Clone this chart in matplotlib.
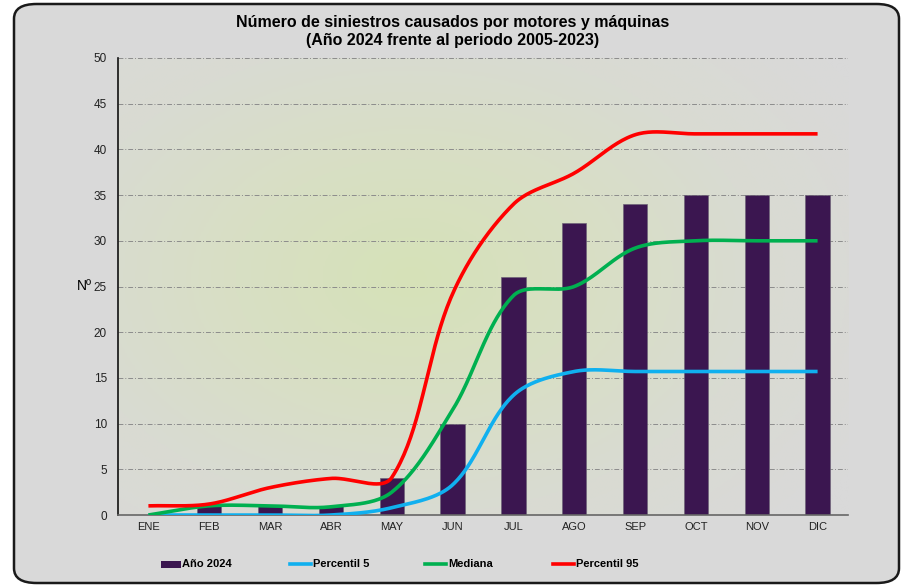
import numpy as np
import matplotlib.pyplot as plt
from matplotlib.patches import FancyBboxPatch, Rectangle
from matplotlib.lines import Line2D
from matplotlib.colors import LinearSegmentedColormap

# Datos
meses = ['ENE', 'FEB', 'MAR', 'ABR', 'MAY', 'JUN', 'JUL', 'AGO', 'SEP', 'OCT', 'NOV', 'DIC']
anio_2024 = [0, 1, 1, 1, 4, 10, 26, 32, 34, 35, 35, 35]
percentil_5 = [0, 0, 0, 0, 0.8, 3.3, 13.1, 15.7, 15.7, 15.7, 15.7, 15.7]
mediana = [0, 1, 1, 0.9, 2.5, 11.5, 24, 25, 29.2, 30, 30, 30]
percentil_95 = [1, 1.2, 3, 4, 4.1, 24.2, 34, 37.4, 41.6, 41.7, 41.7, 41.7]

plt.rcParams['font.family'] = ['Liberation Sans', 'DejaVu Sans']

# escala aproximada en pixeles por unidad (para el suavizado tipo Excel)
SX, SY = 60.8, 9.14


def suavizar(y, n=40):
    # curva Bezier con asas proporcionales a la longitud de cada tramo
    y = np.asarray(y, dtype=float)
    x = np.arange(len(y), dtype=float)
    P = np.column_stack([x * SX, y * SY])
    k = len(P)
    d = np.hypot(*np.diff(P, axis=0).T)
    out_c, in_c = [], []
    for i in range(k):
        if i == 0:
            T = P[1] - P[0]
            out_c.append(P[0] + T / 3)
            in_c.append(P[0])
        elif i == k - 1:
            T = P[-1] - P[-2]
            in_c.append(P[-1] - T / 3)
            out_c.append(P[-1])
        else:
            T = P[i + 1] - P[i - 1]
            dp, dn = d[i - 1], d[i]
            out_c.append(P[i] + T * dn / (dp + dn) / 3)
            in_c.append(P[i] - T * dp / (dp + dn) / 3)
    pts = []
    t = np.linspace(0, 1, n, endpoint=False)[:, None]
    for i in range(k - 1):
        b = ((1 - t) ** 3 * P[i] + 3 * (1 - t) ** 2 * t * out_c[i]
             + 3 * (1 - t) * t ** 2 * in_c[i + 1] + t ** 3 * P[i + 1])
        pts.append(b)
    pts.append(P[-1:])
    pts = np.vstack(pts)
    return pts[:, 0] / SX, pts[:, 1] / SY


fig = plt.figure(figsize=(9.05, 5.87), dpi=100)
fig.patch.set_facecolor('white')

# marco redondeado
marco = FancyBboxPatch((14 / 905, 4 / 587), 885 / 905, 579 / 587,
                       boxstyle='round,pad=0,rounding_size=0.025',
                       transform=fig.transFigure, facecolor='#d9d9d9',
                       edgecolor='#1a1a1a', linewidth=1.8, zorder=-1)
fig.patches.append(marco)

ax = fig.add_axes([118 / 905, 72 / 587, 730 / 905, 457 / 587])
ax.set_zorder(1)
ax.set_facecolor('none')

x = np.arange(len(meses))
ax.set_xlim(-0.5, len(meses) - 0.5)
ax.set_ylim(0, 50)

# fondo con degradado radial
gx, gy = np.meshgrid(np.linspace(0, 1, 300), np.linspace(0, 1, 200))
r = np.sqrt(((gx - 0.40) / 0.72) ** 2 + ((gy - 0.52) / 0.78) ** 2)
r = np.clip(r, 0, 1)
cmap = LinearSegmentedColormap.from_list('fondo', ['#d6e2b8', '#d8dfc4', '#d9dbd2', '#d9d9d9'])
ax.imshow(r, cmap=cmap, extent=[-0.5, len(meses) - 0.5, 0, 50], aspect='auto',
          origin='lower', zorder=0, vmin=0, vmax=1)

ax.yaxis.grid(True, color='#8c8c8c', linestyle=(0, (5, 2, 1, 2)), linewidth=0.7)
ax.set_axisbelow(True)

ax.bar(x, anio_2024, width=0.4, color='#3b1650', edgecolor='#6f6478', linewidth=0.5,
       zorder=2)

for serie, color in ((percentil_5, '#10b0ef'), (mediana, '#00b050'), (percentil_95, '#ff0000')):
    sx, sy = suavizar(serie)
    ax.plot(sx, sy, color=color, linewidth=2.6, zorder=3, solid_capstyle='butt')

ax.set_xticks(x)
ax.set_xticklabels(meses, fontsize=8)
ax.set_yticks(range(0, 51, 5))
ax.set_yticklabels([str(v) for v in range(0, 51, 5)], fontsize=8.5)
ax.tick_params(axis='both', length=0, colors='#222222')
ax.tick_params(axis='x', pad=5)
ax.tick_params(axis='y', pad=8)

for s in ('top', 'right'):
    ax.spines[s].set_visible(False)
ax.spines['left'].set_color('#111111')
ax.spines['left'].set_linewidth(1.2)
ax.spines['bottom'].set_color('#666666')
ax.spines['bottom'].set_linewidth(1.2)

ax.set_ylabel('Nº', rotation=0, fontsize=10, va='center', ha='center')
ax.yaxis.set_label_coords(-0.046, 0.5)

fig.text(0.5, 1 - 22 / 587, 'Número de siniestros causados por motores y máquinas',
         ha='center', va='center', fontsize=11.5, fontweight='bold')
fig.text(0.5, 1 - 41 / 587, '(Año 2024 frente al periodo 2005-2023)',
         ha='center', va='center', fontsize=11.5, fontweight='bold')

# leyenda
ly = 1 - 564 / 587
fig.patches.append(Rectangle((161 / 905, ly - 3.5 / 587), 20 / 905, 7 / 587,
                             transform=fig.transFigure, facecolor='#3b1650',
                             edgecolor='none'))
fig.text(182 / 905, ly, 'Año 2024', va='center', ha='left', fontsize=8, fontweight='bold')
for x0, color, texto in ((290, '#10b0ef', 'Percentil 5'), (425, '#00b050', 'Mediana'),
                         (553, '#ff0000', 'Percentil 95')):
    fig.lines.append(Line2D([x0 / 905, (x0 + 21) / 905], [ly, ly], transform=fig.transFigure,
                            color=color, linewidth=2.6))
    fig.text((x0 + 23) / 905, ly, texto, va='center', ha='left', fontsize=8,
             fontweight='bold')

fig.savefig('out.png', dpi=100)
